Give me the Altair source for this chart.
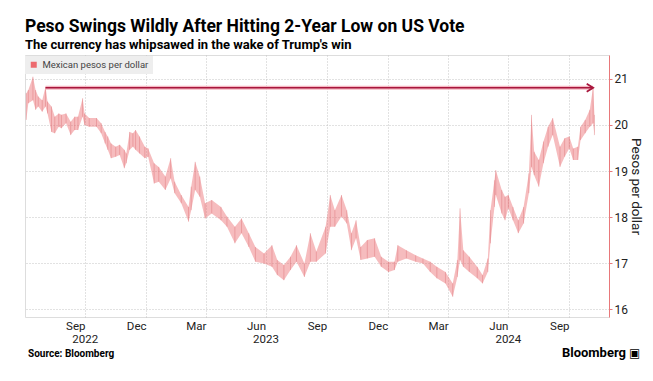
import altair as alt
import pandas as pd

# ---- data ----
dates = [
    "2022-07-04", "2022-07-07", "2022-07-14", "2022-07-18", "2022-07-22", "2022-07-28",
    "2022-08-02", "2022-08-05", "2022-08-11", "2022-08-16", "2022-08-22", "2022-08-26",
    "2022-09-02", "2022-09-09", "2022-09-15", "2022-09-20", "2022-09-27", "2022-09-30",
    "2022-10-07", "2022-10-18", "2022-10-25", "2022-10-31", "2022-11-04", "2022-11-09",
    "2022-11-16", "2022-11-22", "2022-11-29", "2022-12-02", "2022-12-07", "2022-12-12",
    "2022-12-16", "2022-12-22", "2022-12-30", "2023-01-04", "2023-01-13", "2023-01-20",
    "2023-01-30", "2023-02-07", "2023-02-13", "2023-02-23", "2023-03-06", "2023-03-10",
    "2023-03-16", "2023-03-23", "2023-03-31", "2023-04-10", "2023-04-24", "2023-05-03",
    "2023-05-15", "2023-05-25", "2023-06-05", "2023-06-15", "2023-06-28", "2023-07-10",
    "2023-07-18", "2023-07-28", "2023-08-07", "2023-08-16", "2023-08-28", "2023-09-06",
    "2023-09-15", "2023-09-29", "2023-10-06", "2023-10-13", "2023-10-23", "2023-10-31",
    "2023-11-07", "2023-11-14", "2023-11-21", "2023-12-01", "2023-12-12", "2023-12-22",
    "2024-01-02", "2024-01-11", "2024-01-16", "2024-01-29", "2024-02-12", "2024-02-23",
    "2024-03-05", "2024-03-15", "2024-03-28", "2024-04-08", "2024-04-15", "2024-04-19",
    "2024-04-24", "2024-05-03", "2024-05-15", "2024-05-23", "2024-05-31", "2024-06-04",
    "2024-06-10", "2024-06-12", "2024-06-21", "2024-06-26", "2024-07-01", "2024-07-08",
    "2024-07-16", "2024-07-24", "2024-08-01", "2024-08-05", "2024-08-09", "2024-08-16",
    "2024-08-23", "2024-08-30", "2024-09-06", "2024-09-17", "2024-09-24", "2024-10-01",
    "2024-10-07", "2024-10-14", "2024-10-18", "2024-10-25", "2024-11-01", "2024-11-06",
    "2024-11-08",
]
highs = [
    20.69, 20.76, 21.05, 20.76, 20.62, 20.54,
    20.83, 20.51, 20.40, 20.18, 20.25, 20.22,
    20.25, 20.07, 20.18, 20.18, 20.58, 20.25,
    20.15, 20.15, 20.04, 19.85, 19.75, 19.60,
    19.53, 19.57, 19.46, 19.38, 19.85, 19.82,
    19.89, 19.75, 19.53, 19.49, 19.17, 19.09,
    18.88, 19.28, 18.77, 18.48, 18.22, 18.66,
    19.20, 18.88, 18.30, 18.37, 18.22, 18.01,
    17.79, 17.97, 17.65, 17.35, 17.21, 17.39,
    17.07, 16.96, 17.14, 17.39, 16.99, 17.65,
    17.25, 17.79, 18.48, 18.15, 18.48, 18.15,
    17.65, 17.93, 17.35, 17.50, 17.54, 17.14,
    17.03, 17.03, 17.39, 17.28, 17.17, 17.10,
    17.03, 16.92, 16.81, 16.56, 17.07, 18.19,
    17.28, 17.14, 16.92, 16.74, 17.10, 18.15,
    18.80, 19.02, 18.59, 18.44, 18.48, 18.22,
    17.93, 18.22, 18.95, 20.22, 19.42, 19.24,
    19.64, 19.96, 20.15, 19.53, 19.71, 19.75,
    19.49, 19.53, 19.96, 20.11, 20.33, 20.83,
    20.22,
]
lows = [
    20.11, 20.47, 20.54, 20.33, 20.40, 20.29,
    20.40, 20.25, 19.85, 19.82, 19.96, 19.93,
    20.04, 19.78, 19.89, 19.89, 20.18, 20.00,
    19.96, 19.96, 19.82, 19.60, 19.46, 19.28,
    19.31, 19.35, 19.06, 19.17, 19.46, 19.53,
    19.46, 19.38, 19.28, 19.31, 18.73, 18.77,
    18.59, 18.84, 18.52, 18.30, 17.90, 18.15,
    18.59, 18.44, 17.97, 18.08, 17.93, 17.79,
    17.43, 17.65, 17.35, 17.03, 16.99, 16.92,
    16.74, 16.63, 16.85, 17.03, 16.70, 17.03,
    17.03, 17.21, 17.79, 17.79, 18.01, 17.86,
    17.28, 17.54, 17.07, 17.10, 17.14, 16.92,
    16.81, 16.85, 17.03, 17.10, 17.03, 16.99,
    16.81, 16.67, 16.56, 16.27, 16.70, 17.07,
    16.92, 16.81, 16.67, 16.56, 16.81, 17.43,
    18.22, 18.48, 18.08, 17.93, 18.19, 17.93,
    17.65, 17.86, 18.52, 19.09, 18.91, 18.66,
    19.17, 19.53, 19.78, 19.09, 19.31, 19.49,
    19.24, 19.24, 19.67, 19.82, 19.96, 20.04,
    19.78,
]
series_name = "Mexican pesos per dollar"

y_ticks = [16, 17, 18, 19, 20, 21]
quarter_gridlines = [(2022, 10), (2023, 1), (2023, 4), (2023, 7), (2023, 10),
                     (2024, 1), (2024, 4), (2024, 7), (2024, 10)]
year_labels = ["2022", "2023", "2024"]
year_label_dates = ["2022-10-01", "2023-07-01", "2024-07-01"]

arrow_start = ["2022-08-02"]
arrow_end = ["2024-11-06"]
arrow_level = [20.81]

x_domain = ["2022-07-02", "2024-11-30"]
y_domain = [15.83, 21.52]

# ---- build ----
FONT = "Roboto"
W, H = 584, 262

df = pd.DataFrame({"date": dates, "high": highs, "low": lows, "series": series_name})
arrow_df = pd.DataFrame({"start": arrow_start, "end": arrow_end, "level": arrow_level})
years_df = pd.DataFrame({"date": year_label_dates, "label": year_labels})

x_scale = alt.Scale(domain=x_domain)
y_scale = alt.Scale(domain=y_domain, nice=False, zero=False)

x_axis = alt.Axis(
    values=[alt.DateTime(year=y, month=m, date=1) for y, m in quarter_gridlines],
    labelExpr="timeFormat(datetime(year(datum.value), month(datum.value) - 1, 15), '%b')",
    labelOffset=-10, labelPadding=3, labelFontSize=11.5, labelColor="#222",
    grid=True, gridDash=[1, 2], gridColor="#c4c4c4", ticks=False, domain=False,
    title=None, labelFlush=False,
)
y_axis = alt.Axis(
    orient="right", values=y_ticks, title="Pesos per dollar", titleAngle=90,
    titleFontSize=13.5, titleFontWeight="normal", titleColor="#222", titlePadding=1,
    labelFontSize=12, labelColor="#222", labelPadding=2, domainColor="#e8787a",
    tickColor="#e8787a", tickSize=3, grid=True, gridDash=[1, 2], gridColor="#c4c4c4",
)

band = alt.Chart(df).mark_area(opacity=0.45, interpolate="linear").encode(
    x=alt.X("date:T", scale=x_scale, axis=x_axis),
    y=alt.Y("low:Q", scale=y_scale, axis=y_axis),
    y2="high:Q",
    color=alt.Color("series:N", scale=alt.Scale(range=["#ec6a6e"]),
                    legend=alt.Legend(title=None, orient="none", legendX=0, legendY=1,
                                      symbolType="square", symbolSize=36, symbolOpacity=1,
                                      fillColor="#eeeeee", padding=4, labelFontSize=9.5,
                                      labelColor="#444", labelFont=FONT)),
)
candles = alt.Chart(df).mark_rule(color="#d9666b", strokeWidth=0.7, opacity=0.55).encode(
    x="date:T", y="low:Q", y2="high:Q",
)
arrow_halo = alt.Chart(arrow_df).mark_rule(color="#f5b8c2", strokeWidth=4).encode(
    x="start:T", x2="end:T", y="level:Q")
arrow_line = alt.Chart(arrow_df).mark_rule(color="#a8173d", strokeWidth=1.6).encode(
    x="start:T", x2="end:T", y="level:Q")
arrow_head = alt.Chart(arrow_df).mark_point(
    shape="M -1.6 -1 L 0 0 L -1.6 1", filled=False, color="#a8173d", strokeWidth=1.8,
    size=64, opacity=1,
).encode(x="end:T", y="level:Q")

years = alt.Chart(years_df).mark_text(fontSize=11.5, font=FONT, color="#222", baseline="middle").encode(
    x="date:T", y=alt.value(H + 23), text="label:N")

source = alt.Chart(pd.DataFrame({"t": ["Source: Bloomberg"]})).mark_text(
    fontSize=10, font=FONT, fontWeight="bold", align="left", baseline="alphabetic", color="#000"
).encode(x=alt.value(3), y=alt.value(H + 40), text="t:N")
brand = alt.Chart(pd.DataFrame({"t": ["Bloomberg"]})).mark_text(
    fontSize=13, font=FONT, fontWeight="bold", align="right", baseline="alphabetic", color="#000"
).encode(x=alt.value(601), y=alt.value(H + 40), text="t:N")
brand_icon = alt.Chart(pd.DataFrame({"t": ["\u25A3"]})).mark_text(
    fontSize=12, font="DejaVu Sans", align="left", baseline="alphabetic", color="#000"
).encode(x=alt.value(604), y=alt.value(H + 40), text="t:N")

chart = alt.layer(band, candles, arrow_halo, arrow_line, arrow_head, years, source, brand,
                  brand_icon).properties(
    width=W, height=H,
    autosize=alt.AutoSizeParams(type="none"),
    padding={"left": 17, "top": 47, "right": 36, "bottom": 56},
    title=alt.TitleParams(
        text="Peso Swings Wildly After Hitting 2-Year Low on US Vote",
        subtitle="The currency has whipsawed in the wake of Trump's win",
        anchor="start", frame="group", font=FONT, fontSize=17.5, fontWeight="bold", color="#000",
        subtitleFont=FONT, subtitleFontSize=13, subtitleFontWeight="bold", subtitleColor="#000",
        subtitlePadding=4, offset=3,
    ),
).configure_view(stroke=None).configure(font=FONT, background="white")

chart.save("out.html", embed_options={"renderer": "svg", "actions": False})
